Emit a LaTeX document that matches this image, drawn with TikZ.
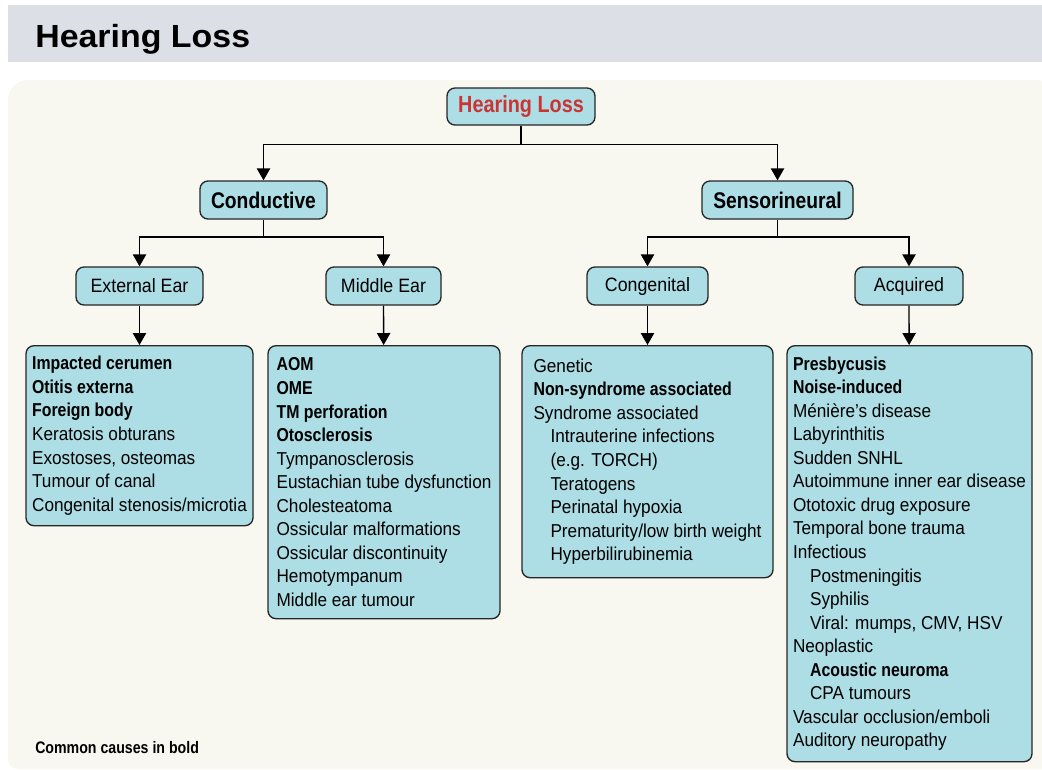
\documentclass[tikz,border=0pt]{standalone}
\usepackage{fontspec}
\setmainfont{Liberation Sans}[FakeStretch=0.92, BoldFeatures={FakeStretch=0.85}]
\newfontfamily\headfont{Liberation Sans}[BoldFeatures={FakeStretch=1.06}]
\usetikzlibrary{positioning, arrows.meta}
\definecolor{headgray}{RGB}{220,223,230}
\definecolor{panelcream}{RGB}{248,247,240}
\definecolor{boxcyan}{RGB}{173,221,229}
\definecolor{rootred}{RGB}{204,52,52}
\newcommand{\ind}{\hspace*{12.75pt}}
\tikzset{
  box/.style={
    draw=black!85, line width=1pt, fill=boxcyan,
    rounded corners=6pt,
    minimum height=28.5pt,
    inner sep=0pt,
    align=center
  },
  topbox/.style={box, font=\fontsize{17}{20}\selectfont\bfseries},
  subbox/.style={box, font=\fontsize{14.5}{17}\selectfont},
  listbox/.style={
    draw=black!85, line width=1pt, fill=boxcyan,
    rounded corners=6pt,
    anchor=north, inner sep=0pt,
    align=left,
    font=\fontsize{14}{17.65}\selectfont
  },
  signal/.style={-{Triangle[length=9pt, width=10pt]}, line width=1pt, black},
  wire/.style={line width=1pt, black}
}

\begin{document}
\begin{tikzpicture}[x=0.75pt, y=-0.75pt]
\useasboundingbox (0,0) rectangle (1042,769);
\fill[white] (0,0) rectangle (1042,769);

% Header band
\fill[headgray] (8,5) rectangle (1042,62);
\node[anchor=base west, inner sep=0pt, font=\headfont\fontsize{24}{28}\selectfont\bfseries] (title) at (35,47) {Hearing Loss};

% Panel
\fill[panelcream] (1042,769) [rounded corners=7.5pt] -- (8,769) [rounded corners=15pt] -- (8,80) [rounded corners=2pt] -- (1042,80) [sharp corners] -- cycle;

% Top levels
\node[topbox, minimum width=111pt, minimum height=27.75pt, text=rootred, font=\fontsize{17.5}{20}\selectfont\bfseries] (hl) at (521,106.5) {Hearing Loss};
\node[topbox, minimum width=95.25pt] (cond) at (263.5,200) {Conductive};
\node[topbox, minimum width=113.25pt] (sens) at (777.5,200) {Sensorineural};

\node[subbox, minimum width=95.25pt] (ext) at (139.5,286) {External Ear};
\node[subbox, minimum width=86.25pt] (mid) at (383.5,286) {Middle Ear};
\node[subbox, minimum width=90.75pt] (cong) at (647.5,286) {Congenital};
\node[subbox, minimum width=81pt] (acq) at (909,286) {Acquired};

% Lists of causes
\node[listbox, minimum width=170.25pt, minimum height=135pt] (extlist) at (139.5,345) {%
  \textbf{Impacted cerumen}\\
  \textbf{Otitis externa}\\
  \textbf{Foreign body}\\
  Keratosis obturans\\
  Exostoses, osteomas\\
  Tumour of canal\\
  Congenital stenosis/microtia};

\node[listbox, minimum width=174pt, minimum height=204.75pt] (midlist) at (384,345) {%
  \textbf{AOM}\\
  \textbf{OME}\\
  \textbf{TM perforation}\\
  \textbf{Otosclerosis}\\
  Tympanosclerosis\\
  Eustachian tube dysfunction\\
  Cholesteatoma\\
  Ossicular malformations\\
  Ossicular discontinuity\\
  Hemotympanum\\
  Middle ear tumour};

\node[listbox, minimum width=188.25pt, minimum height=174pt] (conglist) at (647.5,345) {%
  Genetic\\
  \textbf{Non-syndrome associated}\\
  Syndrome associated\\
  \ind Intrauterine infections\\
  \ind (e.g. TORCH)\\
  \ind Teratogens\\
  \ind Perinatal hypoxia\\
  \ind Prematurity/low birth weight\\
  \ind Hyperbilirubinemia};

\node[listbox, minimum width=183.75pt, minimum height=312pt] (acqlist) at (909.5,345) {%
  \textbf{Presbycusis}\\
  \textbf{Noise-induced}\\
  Ménière’s disease\\
  Labyrinthitis\\
  Sudden SNHL\\
  Autoimmune inner ear disease\\
  Ototoxic drug exposure\\
  Temporal bone trauma\\
  Infectious\\
  \ind Postmeningitis\\
  \ind Syphilis\\
  \ind Viral: mumps, CMV, HSV\\
  Neoplastic\\
  \ind \textbf{Acoustic neuroma}\\
  \ind CPA tumours\\
  Vascular occlusion/emboli\\
  Auditory neuropathy};

% Connectors
\coordinate (hlbus) at (521,144.5);
\coordinate (condbus) at (263.5,237);
\coordinate (sensbus) at (777.5,237);
\draw[wire] (hl) -- (hlbus);
\draw[signal] (hlbus) -| (cond);
\draw[signal] (hlbus) -| (sens);
\draw[wire] (cond) -- (condbus);
\draw[signal] (condbus) -| (ext);
\draw[signal] (condbus) -| (mid);
\draw[wire] (sens) -- (sensbus);
\draw[signal] (sensbus) -| (cong);
\draw[signal] (sensbus) -| (acq);
\draw[signal] (ext) -- (extlist);
\draw[signal] (mid) -- (midlist);
\draw[signal] (cong) -- (conglist);
\draw[signal] (acq) -- (acqlist);

% Note
\node[anchor=base west, inner sep=0pt, font=\fontsize{12.5}{15}\selectfont\bfseries] (note) at (35,753) {Common causes in bold};

\end{tikzpicture}
\end{document}
